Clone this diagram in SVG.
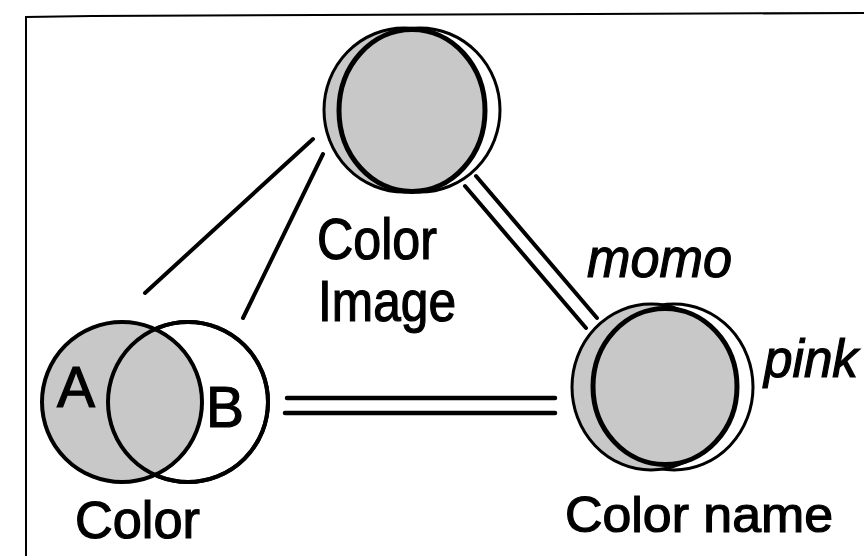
<svg xmlns="http://www.w3.org/2000/svg" width="864" height="556" viewBox="0 0 864 556">
<style>
.ln{fill:none;stroke:#000;stroke-linecap:round}
.gray{fill:#c8c8c8}
.ol{stroke:#000;stroke-width:3}
.il{stroke:#000;stroke-width:5}
.t{font-family:"Liberation Sans",Arial,sans-serif;fill:#000;stroke:#000;stroke-width:1.2}
.ti{font-family:"Liberation Sans",Arial,sans-serif;font-style:italic;fill:#000;stroke:#000;stroke-width:1.2}
</style>
<rect width="864" height="556" fill="#fff"/>
<g id="frame">
<polyline class="ln" points="26,556 26,17 92,16 592,14 864,13" stroke-width="2" stroke-linecap="butt"/>
</g>
<g id="connectors">
<line class="ln" x1="313" y1="139" x2="145" y2="293" stroke-width="4"/>
<line class="ln" x1="323" y1="154" x2="243" y2="318" stroke-width="4"/>
<line class="ln" x1="465" y1="186" x2="586" y2="328" stroke-width="4"/>
<line class="ln" x1="476" y1="176" x2="597" y2="318" stroke-width="4"/>
<line class="ln" x1="287" y1="398" x2="555" y2="398" stroke-width="4.5"/>
<line class="ln" x1="285" y1="413" x2="555" y2="413" stroke-width="4.5"/>
</g>
<g id="node-color-image">
<ellipse cx="420" cy="110" rx="80" ry="82" fill="#fff" class="ol"/>
<ellipse cx="404" cy="110" rx="80" ry="82" class="gray ol"/>
<ellipse cx="412" cy="110.5" rx="73" ry="81" class="gray il"/>
<text class="t" x="317" y="259" font-size="57" textLength="120" lengthAdjust="spacingAndGlyphs">Color</text>
<text class="t" x="318" y="321" font-size="57" textLength="138" lengthAdjust="spacingAndGlyphs">Image</text>
</g>
<g id="node-color">
<circle cx="188" cy="402" r="80" fill="#fff" stroke="#000" stroke-width="4"/>
<circle cx="122" cy="402" r="80" class="gray" stroke="#000" stroke-width="4"/>
<circle cx="188" cy="402" r="80" fill="none" stroke="#000" stroke-width="4"/>
<text class="t" x="57" y="407" font-size="57">A</text>
<text class="t" x="206" y="427" font-size="57">B</text>
<text class="t" x="75" y="538" font-size="51" textLength="125" lengthAdjust="spacingAndGlyphs">Color</text>
</g>
<g id="node-color-name">
<ellipse cx="674" cy="387" rx="79" ry="83" fill="#fff" class="ol"/>
<ellipse cx="651" cy="387" rx="79" ry="83" class="gray ol"/>
<ellipse cx="665" cy="386.5" rx="72" ry="78" class="gray il"/>
<text class="t" x="565" y="532" font-size="50" textLength="268" lengthAdjust="spacingAndGlyphs">Color name</text>
<text class="ti" x="587" y="277" font-size="56" textLength="145" lengthAdjust="spacingAndGlyphs">momo</text>
<text class="ti" x="764" y="377" font-size="53" textLength="94" lengthAdjust="spacingAndGlyphs">pink</text>
</g>
</svg>
